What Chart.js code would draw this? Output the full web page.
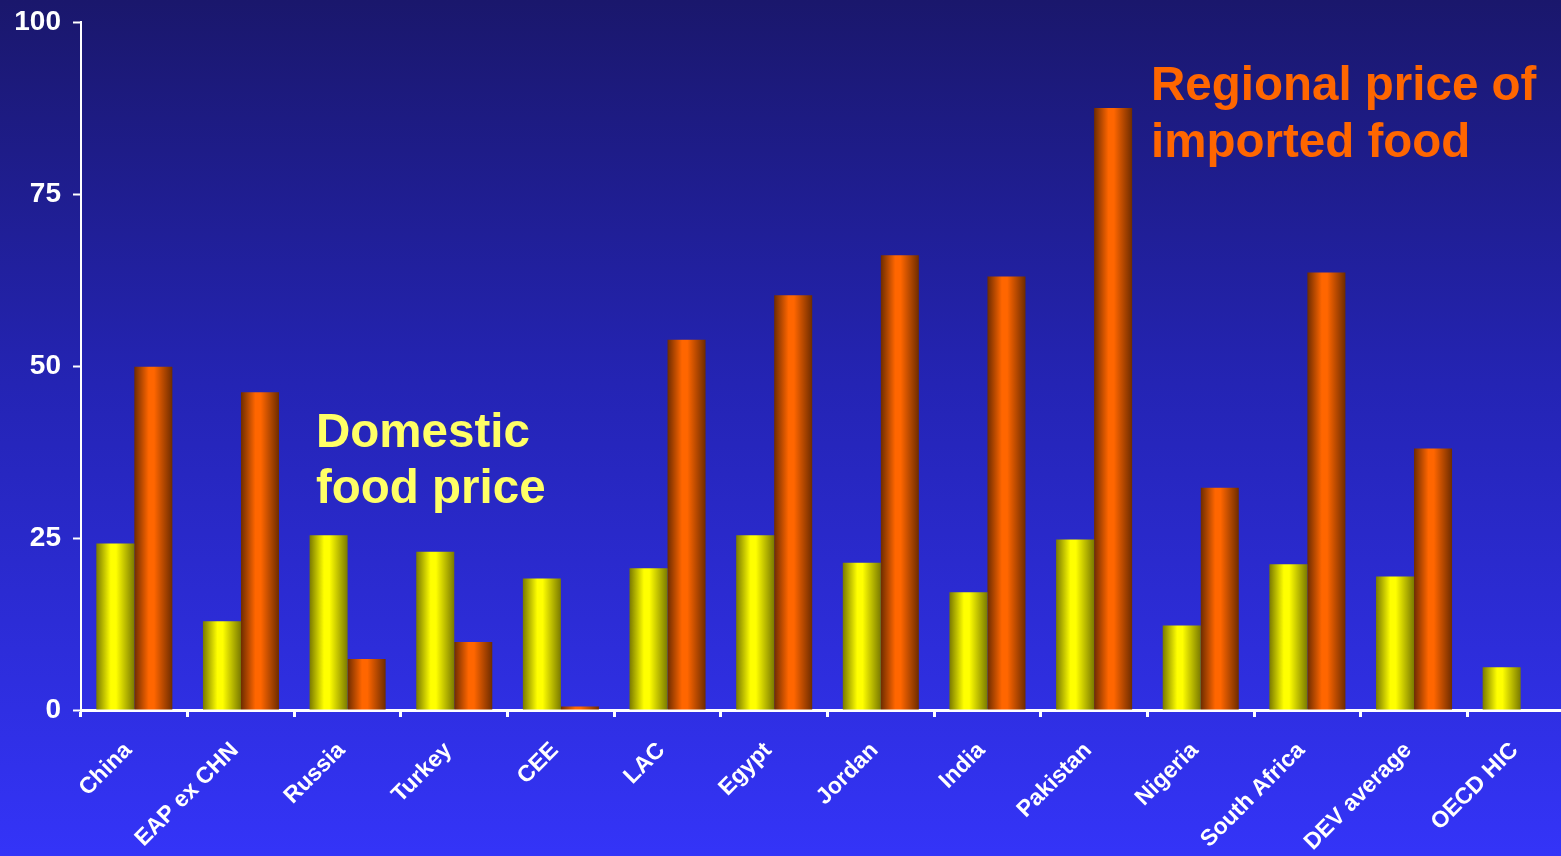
<!DOCTYPE html>
<html>
<head>
<meta charset="utf-8">
<script src="https://cdn.jsdelivr.net/npm/chart.js@4"></script>
<style>
html, body { margin: 0; padding: 0; width: 1561px; height: 856px; overflow: hidden; }
body { background: linear-gradient(to bottom, #1a176c 0%, #2424b4 45%, #3434f8 100%); }
#wrap { position: absolute; left: 0; top: 0; width: 1574px; height: 856px; }
</style>
</head>
<body>
<div id="wrap"><canvas id="c" width="1574" height="856"></canvas></div>
<script>
const categories = ['China', 'EAP ex CHN', 'Russia', 'Turkey', 'CEE', 'LAC', 'Egypt', 'Jordan', 'India', 'Pakistan', 'Nigeria', 'South Africa', 'DEV average', 'OECD HIC'];
const domesticPrice = [24.2, 12.9, 25.4, 23.0, 19.1, 20.6, 25.4, 21.4, 17.1, 24.8, 12.3, 21.2, 19.4, 6.2];
const importedPrice = [49.9, 46.2, 7.4, 9.9, 0.5, 53.8, 60.3, 66.1, 63.0, 87.5, 32.3, 63.6, 38.0, null];
const yTicks = [0, 25, 50, 75, 100];
const domesticLabel = ['Domestic', 'food price'];
const importedLabel = ['Regional price of', 'imported food'];

const CAT_PCT = 0.713;
const FONT = '"Liberation Sans", Arial, sans-serif';

function barGradient(ctx, dsIndex, dark, bright) {
  const chart = ctx.chart;
  const xs = chart.scales && chart.scales.x;
  if (!xs || !chart.chartArea || !xs.width) return bright;
  const c = xs.getPixelForValue(ctx.dataIndex);
  const w = (xs.width / categories.length) * CAT_PCT / 2;
  const x0 = dsIndex === 0 ? c - w : c;
  const g = chart.ctx.createLinearGradient(x0, 0, x0 + w, 0);
  g.addColorStop(0, dark);
  g.addColorStop(0.38, bright);
  g.addColorStop(0.52, bright);
  g.addColorStop(1, dark);
  return g;
}

const annotationPlugin = {
  id: 'annotations',
  afterDraw(chart) {
    const c = chart.ctx;
    c.save();
    c.font = 'bold 47.5px ' + FONT;
    c.textAlign = 'left';
    c.textBaseline = 'alphabetic';
    c.fillStyle = '#ffff66';
    c.fillText(domesticLabel[0], 316, 447);
    c.fillText(domesticLabel[1], 316, 503);
    c.fillStyle = '#ff6600';
    c.fillText(importedLabel[0], 1151, 100);
    c.fillText(importedLabel[1], 1151, 157);
    c.restore();
  }
};

new Chart(document.getElementById('c'), {
  type: 'bar',
  data: {
    labels: categories,
    datasets: [
      {
        label: 'Domestic food price',
        data: domesticPrice,
        backgroundColor: (ctx) => barGradient(ctx, 0, '#7a7a00', '#ffff00'),
        borderWidth: 0,
        barPercentage: 1,
        categoryPercentage: CAT_PCT
      },
      {
        label: 'Regional price of imported food',
        data: importedPrice,
        backgroundColor: (ctx) => barGradient(ctx, 1, '#6e2c00', '#ff6600'),
        borderWidth: 0,
        barPercentage: 1,
        categoryPercentage: CAT_PCT
      }
    ]
  },
  options: {
    responsive: false,
    devicePixelRatio: 1,
    animation: false,
    layout: { padding: { top: 22, left: 0, right: 0, bottom: 0 } },
    plugins: {
      legend: { display: false },
      tooltip: { enabled: false },
      title: { display: false }
    },
    scales: {
      x: {
        offset: true,
        grid: {
          offset: true,
          drawOnChartArea: false,
          drawTicks: true,
          tickLength: 7,
          tickWidth: 3,
          tickColor: '#ffffff'
        },
        border: { display: true, color: '#ffffff', width: 3 },
        ticks: {
          color: '#ffffff',
          font: { family: FONT, size: 23, weight: 'bold' },
          maxRotation: 45,
          minRotation: 45,
          autoSkip: false,
          padding: 20,
          labelOffset: -6
        },
        afterFit(scale) { scale.height = 146; }
      },
      y: {
        min: 0,
        max: 100,
        afterBuildTicks(scale) { scale.ticks = yTicks.map(v => ({ value: v })); },
        grid: {
          drawOnChartArea: false,
          drawTicks: true,
          tickLength: 8,
          tickWidth: 2,
          tickColor: '#ffffff'
        },
        border: { display: true, color: '#ffffff', width: 2 },
        ticks: {
          color: '#ffffff',
          font: { family: FONT, size: 28, weight: 'bold' },
          padding: 12
        },
        afterFit(scale) { scale.width = 81; scale.paddingTop = 0; scale.paddingBottom = 0; }
      }
    }
  },
  plugins: [annotationPlugin]
});
</script>
</body>
</html>
